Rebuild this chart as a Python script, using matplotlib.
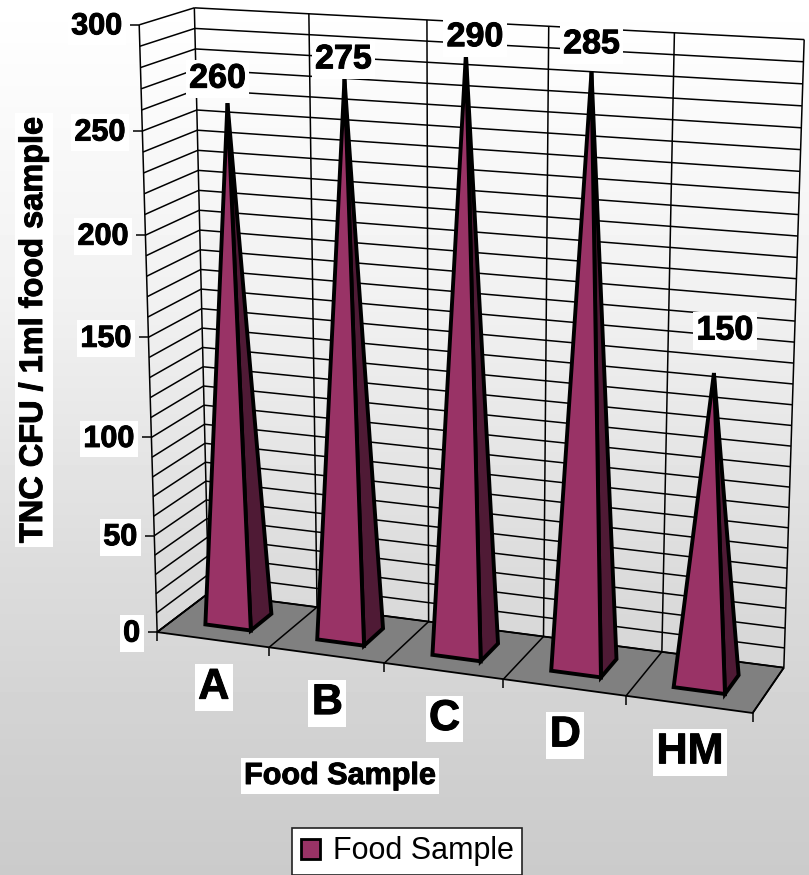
# -*- coding: utf-8 -*-
#-------------------------------------------------------------------------------
# Total count per food sample, drawn as a 3D pyramid column chart
#-------------------------------------------------------------------------------
import numpy as np
import matplotlib
matplotlib.use('Agg')
import matplotlib.pyplot as plt
import matplotlib.patheffects as pe
from matplotlib.patches import Patch, Polygon

plt.rcParams['font.family'] = ['Liberation Sans', 'DejaVu Sans']
#-------------------------------------------------------------------------------
# DATA
#-------------------------------------------------------------------------------
categories = ['A', 'B', 'C', 'D', 'HM']
values = [260, 275, 290, 285, 150]
y_ticks = [0, 50, 100, 150, 200, 250, 300]
y_minor_step = 10
y_max = 300
series_name = 'Food Sample'
x_title = 'Food Sample'
y_title = 'TNC CFU / 1ml food sample'
#-------------------------------------------------------------------------------
# camera: (category, value, depth) -> pixel pairs, solved once for a 3x4 matrix
#-------------------------------------------------------------------------------
camera_world = [(0,0,0),(1,0,0),(2,0,0),(3,0,0),(4,0,0),(5,0,0),
                (0,0,1),(1,0,1),(2,0,1),(3,0,1),(4,0,1),(5,0,1),
                (0,300,1),(1,300,1),(3,300,1),(4,300,1),(5,300,1),
                (0,50,0),(0,100,0),(0,150,0),(0,200,0),(0,250,0),(0,300,0)]
camera_pixel = [(157,632),(270,647),(385,664),(503,679),(627,696),(752,713),
                (207,593),(318,607),(430,622),(543,636),(662,653),(783,667),
                (195,8),(309,14),(548,26),(674,33),(805,39),
                (154,535),(151,437),(148,337),(146,236),(142,131),(139,25)]

def solve_camera(world, pixel):
    rows, rhs = [], []
    for (x, y, z), (u, v) in zip(world, pixel):
        y = y / y_max
        rows.append([x, y, z, 1, 0, 0, 0, 0, -u*x, -u*y, -u*z])
        rows.append([0, 0, 0, 0, x, y, z, 1, -v*x, -v*y, -v*z])
        rhs += [u, v]
    m = np.linalg.lstsq(np.array(rows, float), np.array(rhs, float), rcond=None)[0]
    return np.append(m, 1).reshape(3, 4)

cam = solve_camera(camera_world, camera_pixel)

def proj(x, y, z):
    h = cam @ np.array([x, y / y_max, z, 1.0])
    return h[0] / h[2], h[1] / h[2]
#-------------------------------------------------------------------------------
# figure, one axes in pixel units
#-------------------------------------------------------------------------------
fig = plt.figure(figsize=(8.09, 8.75), dpi=100)
ax = fig.add_axes([0, 0, 1, 1])
ax.set_xlim(0, 809)
ax.set_ylim(875, 0)
ax.axis('off')

# page background
rows_y = np.arange(875)
grad = np.interp(rows_y, [0, 300, 560, 760, 875], [1.0, 0.945, 0.865, 0.815, 0.795]).reshape(-1, 1)
ax.imshow(grad, cmap='gray', vmin=0, vmax=1, extent=[0, 809, 875, 0], aspect='auto', zorder=0)

def seg(p, q, lw=1.1, z=2):
    ax.plot([p[0], q[0]], [p[1], q[1]], color='black', lw=lw, zorder=z, solid_capstyle='butt')

n = len(categories)

# floor
floor = [proj(0,0,0), proj(n,0,0), proj(n,0,1), proj(0,0,1)]
ax.add_patch(Polygon(floor, closed=True, fc='#808080', ec='black', lw=1.3, zorder=1.5))

# walls
for val in range(0, y_max + 1, y_minor_step):
    seg(proj(0,val,0), proj(0,val,1))
    seg(proj(0,val,1), proj(n,val,1))
for i in range(n + 1):
    seg(proj(i,0,1), proj(i,y_max,1))
    seg(proj(i,0,0), proj(i,0,1))
seg(proj(0,0,0), proj(0,y_max,0))

# tick marks
for val in y_ticks:
    u, v = proj(0, val, 0)
    seg((u - 9, v), (u, v))
for i in range(n + 1):
    u, v = proj(i, 0, 0)
    seg((u, v), (u, v + 9))

# pyramids
half_w = 0.205
z_front, z_back = 0.30, 0.72
for i, val in enumerate(values):
    fl = proj(i + 0.5 - half_w, 0, z_front)
    fr = proj(i + 0.5 + half_w, 0, z_front)
    br = proj(i + 0.5 + half_w, 0, z_back)
    apex = proj(i + 0.5, val, 0.5 * (z_front + z_back))
    ax.add_patch(Polygon([fr, br, apex], closed=True, fc='#4f1a35', ec='black', lw=2.8,
                         joinstyle='miter', zorder=3 + i * 0.1))
    ax.add_patch(Polygon([fl, fr, apex], closed=True, fc='#993366', ec='black', lw=2.8,
                         joinstyle='miter', zorder=3 + i * 0.1))

# labels sit on white boxes, the bold ones a little heavier
white = dict(fc='white', ec='none', pad=2.5)
heavy = [pe.withStroke(linewidth=0.7, foreground='black')]

for val in y_ticks:
    u, v = proj(0, val, 0)
    ax.text(u - 17, v + 1.5, str(val), ha='right', va='center', fontsize=22, fontweight='bold',
            bbox=white, zorder=5, path_effects=heavy)

for i, name in enumerate(categories):
    u, v = proj(i + 0.5, 0, 0)
    ax.text(u + 1, v + 48, name, ha='center', va='center', fontsize=31, fontweight='bold',
            bbox=white, zorder=5, path_effects=heavy)

label_shift = [(-10,-24), (-1,-19), (9,-16), (0,-27), (11,-42)]
for i, val in enumerate(values):
    u, v = proj(i + 0.5, val, 0.5 * (z_front + z_back))
    ax.text(u + label_shift[i][0], v + label_shift[i][1], str(val), ha='center', va='center',
            fontsize=24.5, fontweight='bold', bbox=white, zorder=6, path_effects=heavy)

ax.text(34, 330, y_title, rotation=90, ha='center', va='center', fontsize=23.4,
        fontweight='bold', bbox=white, zorder=5, path_effects=heavy)
ax.text(340, 776, x_title, ha='center', va='center', fontsize=22, fontweight='bold',
        bbox=white, zorder=5, path_effects=heavy)

# legend
leg = ax.legend(handles=[Patch(fc='#993366', ec='black', lw=2, label=series_name)],
                loc='center', bbox_to_anchor=(407/809, 1 - 851.5/875), fontsize=22,
                fancybox=False, framealpha=1, facecolor='white', edgecolor='#222222',
                handlelength=0.65, handleheight=0.65, handletextpad=0.4,
                borderpad=0.28, borderaxespad=0)
leg.set_zorder(6)
leg.get_frame().set_linewidth(1.2)

fig.savefig('out.png', dpi=100)
